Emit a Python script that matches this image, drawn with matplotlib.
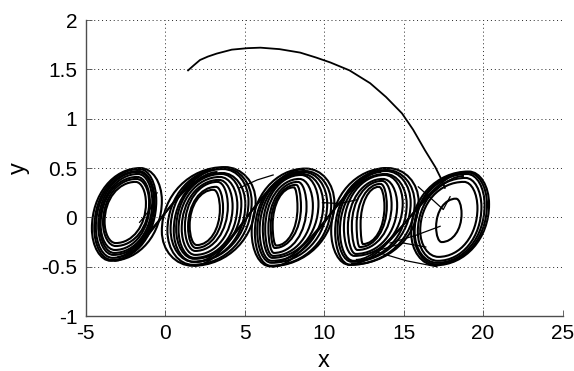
import numpy as np
import matplotlib.pyplot as plt
from matplotlib.path import Path
from matplotlib.patches import PathPatch

plt.rcParams["font.family"] = ["Liberation Sans", "DejaVu Sans"]

# -----------------------------
# DATI
# -----------------------------
# transitorio iniziale
tr_x = [1.45, 1.8, 2.2, 2.7, 3.25, 4.2, 5.2, 6.0, 7.2, 8.5, 9.5, 10.4, 11.6, 12.9, 13.9, 14.9, 15.6, 16.35, 17.0, 17.4, 17.6]
tr_y = [1.49, 1.54, 1.595, 1.63, 1.66, 1.70, 1.715, 1.72, 1.705, 1.67, 1.62, 1.57, 1.49, 1.36, 1.22, 1.055, 0.89, 0.68, 0.51, 0.38, 0.30]

# anelli dei cinque scroll:
# centro x (fra estremo sx e dx), semi-larghezza, centro y, semi-altezza,
# x del punto piu' alto, x del punto piu' basso
loop_cx = [-2.4, -2.5, -2.5, -2.45, -2.45, -2.5, -2.45, -2.5,
           2.75, 2.8, 2.8, 2.8, 2.75, 2.7, 2.65, 2.6, 2.55, 2.5,
           8.05, 8.05, 8.0, 7.95, 7.9, 7.8, 7.7, 7.6, 7.55,
           13.2, 13.2, 13.15, 13.1, 13.1, 13.05, 13.0, 13.0, 13.05,
           17.93, 17.95, 17.9, 17.9, 17.85, 17.85]
loop_hw = [2.2, 1.95, 1.85, 1.75, 1.65, 1.55, 1.45, 1.3,
           2.95, 2.65, 2.45, 2.25, 2.05, 1.85, 1.6, 1.35, 1.1, 0.95,
           2.6, 2.4, 2.2, 2.0, 1.75, 1.5, 1.2, 0.95, 0.78,
           2.75, 2.5, 2.3, 2.1, 1.85, 1.55, 1.25, 0.95, 0.75,
           2.45, 2.3, 2.2, 2.0, 1.8, 0.8]
loop_cy = [0.03, 0.03, 0.03, 0.04, 0.04, 0.04, 0.05, 0.05,
           0.01, 0.01, 0.02, 0.0, 0.01, 0.0, 0.0, 0.01, 0.0, 0.0,
           0.0, -0.01, 0.0, 0.0, 0.01, 0.0, 0.0, 0.01, 0.01,
           0.01, 0.0, 0.01, 0.0, 0.02, 0.01, 0.02, 0.02, 0.02,
           -0.01, -0.01, -0.01, -0.02, -0.02, -0.03]
loop_hh = [0.47, 0.46, 0.44, 0.42, 0.40, 0.37, 0.34, 0.31,
           0.50, 0.49, 0.47, 0.45, 0.43, 0.41, 0.38, 0.35, 0.31, 0.28,
           0.495, 0.48, 0.46, 0.44, 0.42, 0.39, 0.36, 0.32, 0.295,
           0.49, 0.48, 0.46, 0.44, 0.41, 0.38, 0.35, 0.32, 0.29,
           0.475, 0.465, 0.45, 0.42, 0.38, 0.22]
loop_tx = [-1.55, -1.6, -1.65, -1.7, -1.7, -1.75, -1.8, -1.85,
           3.75, 3.7, 3.65, 3.6, 3.55, 3.45, 3.4, 3.3, 3.2, 3.05,
           8.85, 8.8, 8.7, 8.65, 8.55, 8.45, 8.35, 8.25, 8.1,
           14.0, 13.95, 13.9, 13.85, 13.8, 13.7, 13.65, 13.55, 13.45,
           19.1, 19.05, 19.0, 18.9, 18.8, 18.3]
loop_bx = [-3.4, -3.35, -3.3, -3.25, -3.2, -3.15, -3.1, -3.1,
           1.75, 1.75, 1.8, 1.8, 1.85, 1.85, 1.9, 1.9, 1.95, 2.0,
           6.6, 6.65, 6.7, 6.7, 6.75, 6.8, 6.85, 6.9, 7.0,
           11.6, 11.65, 11.75, 11.85, 11.9, 12.0, 12.1, 12.25, 12.45,
           17.0, 17.05, 17.1, 17.15, 17.2, 17.4]

# rami a "otto" fra scroll vicini (4 punti di controllo ciascuno)
br_x = [[-3.2, -1.2, 0.9, 3.6], [-3.0, -1.4, 1.1, 3.3],
        [1.8, 4.2, 6.0, 8.8], [2.0, 4.0, 6.2, 8.5],
        [6.7, 9.2, 11.3, 13.9], [6.9, 9.0, 11.5, 13.6],
        [11.7, 14.3, 16.4, 19.0], [12.0, 14.1, 16.6, 18.8]]
br_y = [[-0.44, -0.44, 0.50, 0.50], [-0.40, -0.40, 0.46, 0.46],
        [-0.49, -0.49, 0.49, 0.49], [-0.45, -0.45, 0.45, 0.45],
        [-0.50, -0.50, 0.50, 0.50], [-0.45, -0.45, 0.46, 0.46],
        [-0.47, -0.47, 0.46, 0.46], [-0.43, -0.43, 0.42, 0.42]]

# tratti di transizione isolati
seg_x = [[-1.6, -0.95, -0.5],
         [4.7, 5.8, 6.8],
         [9.9, 11.0, 12.1],
         [13.3, 15.2, 17.1],
         [14.15, 15.8, 17.3],
         [15.93, 17.5, 17.93],
         [13.5, 15.0, 16.4]]
seg_y = [[-0.05, 0.08, 0.25],
         [0.30, 0.38, 0.43],
         [0.15, 0.14, 0.18],
         [-0.35, -0.44, -0.50],
         [-0.26, -0.18, -0.09],
         [0.31, 0.08, 0.21],
         [-0.33, -0.26, -0.30]]

c = 0.56   # forma delle curve di Bezier (0.55 ~ ellisse)
dy = 0.15  # estremo dx piu' alto, sx piu' basso


def anello(cx, hw, cy, hh, tx, bx):
    top = (tx, cy + hh)
    rgt = (cx + hw, cy + dy * hh / 0.5)
    bot = (bx, cy - hh)
    lft = (cx - hw, cy - dy * hh / 0.5)
    verts = [top]
    for i, (p0, p1) in enumerate([(top, rgt), (rgt, bot), (bot, lft), (lft, top)]):
        if i % 2 == 0:   # parte da top/bot: tangente orizzontale
            c1 = (p0[0] + c * (p1[0] - p0[0]), p0[1])
            c2 = (p1[0], p1[1] + c * (p0[1] - p1[1]))
        else:            # parte da dx/sx: tangente verticale
            c1 = (p0[0], p0[1] + c * (p1[1] - p0[1]))
            c2 = (p1[0] + c * (p0[0] - p1[0]), p1[1])
        verts += [c1, c2, p1]
    codes = [Path.MOVETO] + [Path.CURVE4] * 12
    return Path(verts, codes)


# -----------------------------
# GRAFICO
# -----------------------------
fig = plt.figure(figsize=(5.74, 3.71), dpi=100)
ax = fig.add_axes([0.149, 0.148, 0.831, 0.798])

ax.plot(tr_x, tr_y, color="black", lw=1.3)

for p in zip(loop_cx, loop_hw, loop_cy, loop_hh, loop_tx, loop_bx):
    ax.add_patch(PathPatch(anello(*p), fill=False, edgecolor="black", lw=1.5))

for bx_, by_ in zip(br_x, br_y):
    pth = Path(list(zip(bx_, by_)), [Path.MOVETO] + [Path.CURVE4] * 3)
    ax.add_patch(PathPatch(pth, fill=False, edgecolor="black", lw=1.4))

for sx, sy in zip(seg_x, seg_y):
    ax.plot(sx, sy, color="black", lw=0.9)

ax.set_xlim(-5, 25)
ax.set_ylim(-1, 2)
ax.set_xticks(np.arange(-5, 26, 5))
ax.set_yticks([-1, -0.5, 0, 0.5, 1, 1.5, 2])
ax.set_yticklabels(["-1", "-0.5", "0", "0.5", "1", "1.5", "2"])
ax.set_xticklabels(["-5", "0", "5", "10", "15", "20", "25"])

ax.grid(True, color="0.15", linestyle=(0, (1, 3)), lw=0.7)
ax.spines["top"].set_visible(False)
ax.spines["right"].set_visible(False)
for s in ["left", "bottom"]:
    ax.spines[s].set_color("0.3")
    ax.spines[s].set_linewidth(1.0)
ax.tick_params(direction="in", length=4, width=0.6, labelsize=15, colors="0.3", labelcolor="black", pad=6)

ax.set_xlabel("x", fontsize=17, va="center")
ax.set_ylabel("y", fontsize=17, va="center")
ax.xaxis.set_label_coords(0.5, -0.15)
ax.yaxis.set_label_coords(-0.14, 0.5)

fig.savefig("out.png", dpi=100)
